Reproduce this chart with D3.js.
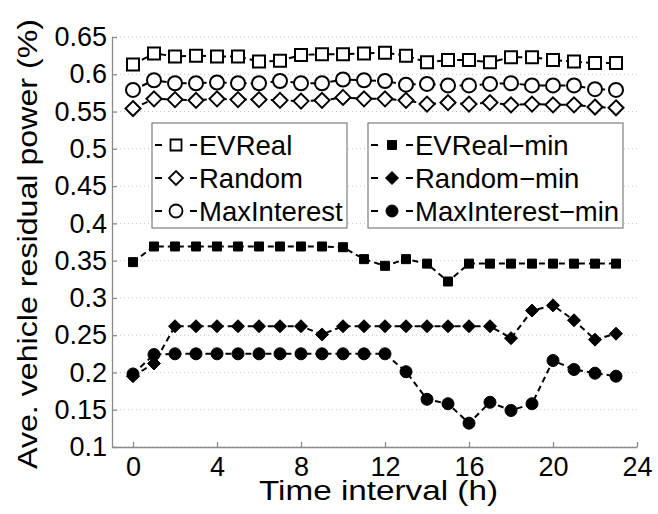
<!DOCTYPE html>
<html>
<head>
<meta charset="utf-8">
<script src="https://cdn.jsdelivr.net/npm/d3@7"></script>
<style>
  body { margin: 0; background: #fff; }
  text { font-family: "Liberation Sans", Arial, Helvetica, sans-serif; fill: #000; }
</style>
</head>
<body>
<div id="chart"></div>
<script>
// hours of the day (x categories)
const hours = [0,1,2,3,4,5,6,7,8,9,10,11,12,13,14,15,16,17,18,19,20,21,22,23];
const xTicks = [0,4,8,12,16,20,24];
const yTicks = [0.1,0.15,0.2,0.25,0.3,0.35,0.4,0.45,0.5,0.55,0.6,0.65];

// series values
const evReal = [0.613,0.628,0.624,0.625,0.624,0.624,0.617,0.618,0.626,0.627,0.627,0.628,
                0.629,0.625,0.616,0.619,0.619,0.616,0.623,0.623,0.619,0.617,0.615,0.615];
const random = [0.554,0.567,0.566,0.565,0.567,0.566,0.566,0.565,0.564,0.565,0.569,0.567,
                0.567,0.565,0.560,0.562,0.560,0.562,0.559,0.560,0.559,0.559,0.556,0.555];
const maxInterest = [0.579,0.592,0.588,0.588,0.589,0.588,0.588,0.591,0.588,0.588,0.593,0.592,
                     0.591,0.586,0.587,0.585,0.585,0.587,0.588,0.585,0.585,0.585,0.580,0.579];
const evRealMin = [0.348,0.369,0.369,0.369,0.369,0.369,0.369,0.369,0.369,0.369,0.368,0.352,
                   0.343,0.352,0.346,0.322,0.346,0.346,0.346,0.346,0.346,0.346,0.346,0.346];
const randomMin = [0.195,0.212,0.262,0.262,0.262,0.262,0.262,0.262,0.262,0.251,0.262,0.262,
                   0.262,0.262,0.262,0.262,0.262,0.262,0.246,0.283,0.290,0.270,0.244,0.252];
const maxInterestMin = [0.198,0.224,0.225,0.225,0.225,0.225,0.225,0.225,0.225,0.225,0.225,0.225,
                        0.225,0.201,0.164,0.158,0.132,0.160,0.149,0.158,0.216,0.204,0.199,0.195];

const series = [
  {name: "EVReal", values: evReal, shape: "square", filled: false, size: 12},
  {name: "Random", values: random, shape: "diamond", filled: false, size: 15},
  {name: "MaxInterest", values: maxInterest, shape: "circle", filled: false, size: 14},
  {name: "EVReal\u2212min", values: evRealMin, shape: "square", filled: true, size: 9},
  {name: "Random\u2212min", values: randomMin, shape: "diamond", filled: true, size: 13},
  {name: "MaxInterest\u2212min", values: maxInterestMin, shape: "circle", filled: true, size: 12}
];

const W = 658, H = 514;
const svg = d3.select("#chart").append("svg")
  .attr("width", W).attr("height", H);

const x = d3.scaleLinear().domain([-1, 24]).range([112, 637]);
const y = d3.scaleLinear().domain([0.1, 0.65]).range([447, 37]);

// marker path centred on 0,0
function markerPath(shape, s) {
  const r = s / 2;
  if (shape === "square") return `M${-r},${-r}H${r}V${r}H${-r}Z`;
  if (shape === "diamond") return `M0,${-r}L${r},0L0,${r}L${-r},0Z`;
  return `M${r},0A${r},${r} 0 1,1 ${-r},0A${r},${r} 0 1,1 ${r},0Z`;
}

// dotted grid
svg.append("g").selectAll("line")
  .data(yTicks)
  .enter().append("line")
  .attr("x1", x(-1)).attr("x2", x(24))
  .attr("y1", d => y(d)).attr("y2", d => y(d))
  .attr("stroke", "#c4c4c4")
  .attr("stroke-width", 1)
  .attr("stroke-dasharray", "1,3");

// axes
const yAxis = svg.append("g")
  .attr("transform", `translate(${x(-1)},0)`)
  .call(d3.axisLeft(y).tickValues(yTicks).tickSizeInner(-5).tickSizeOuter(0).tickPadding(5)
    .tickFormat(d => String(+d.toFixed(2))));
const xAxis = svg.append("g")
  .attr("transform", `translate(0,${y(0.1)})`)
  .call(d3.axisBottom(x).tickValues(xTicks).tickSizeInner(-5).tickSizeOuter(0).tickPadding(10));

[xAxis, yAxis].forEach(a => {
  a.select(".domain").attr("stroke", "#8a8a8a").attr("stroke-width", 1.3);
  a.selectAll(".tick line").attr("stroke", "#8a8a8a").attr("stroke-width", 1.3);
  a.selectAll(".tick text").style("font-size", "27px").attr("fill", "#000")
    .style("font-family", "'Liberation Sans', Arial, sans-serif");
});

// lines
const line = d3.line()
  .x((d, i) => x(hours[i]))
  .y(d => y(d));

series.forEach(s => {
  svg.append("path")
    .datum(s.values)
    .attr("d", line)
    .attr("fill", "none")
    .attr("stroke", "#000")
    .attr("stroke-width", 2)
    .attr("stroke-dasharray", "6,4");
});

// markers: white backing for open markers first, then outlines on top
series.filter(s => !s.filled).forEach(s => {
  svg.append("g").selectAll("path")
    .data(s.values).enter().append("path")
    .attr("transform", (d, i) => `translate(${x(hours[i])},${y(d)})`)
    .attr("d", markerPath(s.shape, s.size))
    .attr("fill", "#fff");
});
series.forEach(s => {
  svg.append("g").selectAll("path")
    .data(s.values).enter().append("path")
    .attr("transform", (d, i) => `translate(${x(hours[i])},${y(d)})`)
    .attr("d", markerPath(s.shape, s.size))
    .attr("fill", s.filled ? "#000" : "none")
    .attr("stroke", "#000")
    .attr("stroke-width", s.filled ? 1 : 2);
});

// legends
const boxes = [
  {x: 152, w: 195, items: series.slice(0, 3)},
  {x: 368, w: 255, items: series.slice(3)}
];
boxes.forEach(b => {
  const g = svg.append("g");
  g.append("rect")
    .attr("x", b.x).attr("y", 123)
    .attr("width", b.w).attr("height", 105)
    .attr("fill", "#fff")
    .attr("stroke", "#666")
    .attr("stroke-width", 1);
  b.items.forEach((s, i) => {
    const cy = 145 + i * 33;
    const x0 = b.x + 3, x1 = b.x + 45, cx = (x0 + x1) / 2;
    g.append("line").attr("x1", x0).attr("x2", x0 + 7).attr("y1", cy).attr("y2", cy)
      .attr("stroke", "#000").attr("stroke-width", 2);
    g.append("line").attr("x1", x1 - 7).attr("x2", x1).attr("y1", cy).attr("y2", cy)
      .attr("stroke", "#000").attr("stroke-width", 2);
    g.append("path")
      .attr("transform", `translate(${cx},${cy})`)
      .attr("d", markerPath(s.shape, s.filled ? s.size : s.size - 1))
      .attr("fill", s.filled ? "#000" : "#fff")
      .attr("stroke", "#000")
      .attr("stroke-width", s.filled ? 1 : 1.8);
    g.append("text")
      .attr("x", x1 + 2).attr("y", cy)
      .attr("dy", "0.36em")
      .style("font-size", "27.5px")
      .text(s.name);
  });
});

// axis titles (the reference glyphs are stretched along the reading direction)
svg.append("text")
  .attr("x", 259).attr("y", 500)
  .attr("textLength", 239)
  .attr("lengthAdjust", "spacingAndGlyphs")
  .style("font-size", "27px")
  .text("Time interval (h)");

svg.append("text")
  .attr("transform", "translate(37,469) rotate(-90)")
  .attr("textLength", 450)
  .attr("lengthAdjust", "spacingAndGlyphs")
  .style("font-size", "28px")
  .text("Ave. vehicle residual power (%)");
</script>
</body>
</html>
